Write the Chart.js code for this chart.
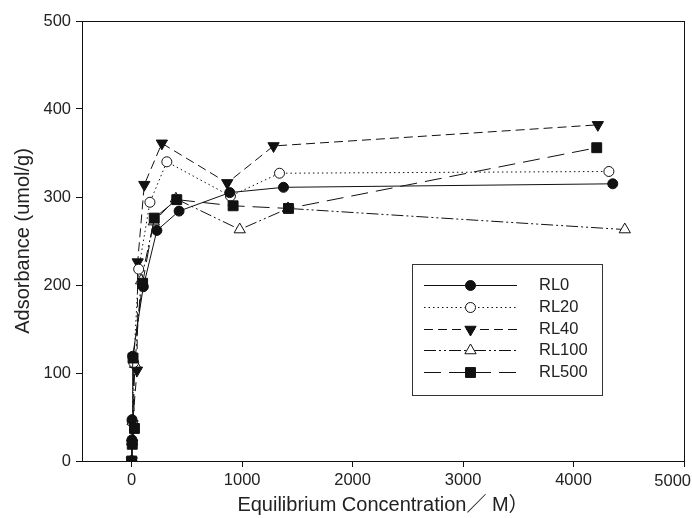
<!DOCTYPE html>
<html>
<head>
<meta charset="utf-8">
<script src="https://cdn.jsdelivr.net/npm/chart.js@4.4.0/dist/chart.umd.min.js"></script>
<style>
    html, body { margin: 0; padding: 0; background: #fff; }
    #wrap { width: 692px; height: 518px; position: relative; }
</style>
</head>
<body>
<div id="wrap"><canvas id="adsorption-chart"></canvas></div>
<script>
// equilibrium concentration (x) and adsorbed amount (y) for each sample
var rl0X = [0, 2, 3, 9, 105, 228, 429, 888, 1374, 4355];
var rl0Y = [0, 24, 47, 119, 198, 262, 284, 305, 311, 315];

var rl20X = [0, 3, 6, 18, 63, 165, 318, 894, 1338, 4320];
var rl20Y = [0, 20, 44, 112, 218, 294, 340, 301, 327, 329];

var rl40X = [0, 4, 8, 48, 54, 114, 273, 865, 1284, 4220];
var rl40Y = [0, 20, 42, 103, 226, 314, 361, 316, 358, 382];

var rl100X = [0, 4, 8, 30, 85, 200, 400, 978, 1415, 4464];
var rl100Y = [0, 22, 45, 110, 205, 272, 298, 263, 287, 263];

var rl500X = [0, 5, 25, 12, 99, 204, 408, 918, 1419, 4210];
var rl500Y = [0, 19, 37, 117, 202, 276, 297, 290, 287, 356];

var seriesNames = ["RL0", "RL20", "RL40", "RL100", "RL500"];
var xTickValues = [0, 1000, 2000, 3000, 4000, 5000];
var yTickValues = [0, 100, 200, 300, 400, 500];

var fontFamily = "'Liberation Sans', Arial, 'Noto Sans CJK SC', sans-serif";
var inkColor = "#222";
var tickFontSize = 16.5;

function toPoints(xs, ys) {
    return xs.map(function (x, i) { return { x: x, y: ys[i] }; });
}

function series(name, xs, ys, opts) {
    return Object.assign({
        label: name,
        data: toPoints(xs, ys),
        borderColor: "#111",
        borderWidth: 1,
        pointBorderColor: "#111",
        pointBorderWidth: 1,
        backgroundColor: "#111",
        pointBackgroundColor: "#111",
        showLine: true,
        tension: 0,
        order: 1
    }, opts);
}

// RL500 gets order 0 so its squares sit above the other markers
var datasets = [
    series(seriesNames[0], rl0X, rl0Y, { pointStyle: "circle", pointRadius: 5, borderDash: [] }),
    series(seriesNames[1], rl20X, rl20Y, { pointStyle: "circle", pointRadius: 5, pointBackgroundColor: "#fff", borderDash: [1.5, 3] }),
    series(seriesNames[2], rl40X, rl40Y, { pointStyle: "triangle", pointRadius: 6.5, pointRotation: 180, borderDash: [9, 5] }),
    series(seriesNames[3], rl100X, rl100Y, { pointStyle: "triangle", pointRadius: 6.5, pointBackgroundColor: "#fff", borderDash: [12, 3, 2, 3, 2, 3], order: 2 }),
    series(seriesNames[4], rl500X, rl500Y, { pointStyle: "rect", pointRadius: 7, borderDash: [17, 8], order: 0 })
];

// full frame around the plotting area, plus the last x label kept inside the canvas
var framePlugin = {
    id: "frame",
    afterDraw: function (chart) {
        var a = chart.chartArea, ctx = chart.ctx;
        ctx.save();
        ctx.strokeStyle = "#111";
        ctx.lineWidth = 1;
        ctx.strokeRect(Math.round(a.left) + 0.5, Math.round(a.top) + 0.5,
            Math.round(a.right - a.left), Math.round(a.bottom - a.top));

        var xs = chart.scales.x;
        var last = xTickValues[xTickValues.length - 1];
        var text = String(last);
        ctx.font = tickFontSize + "px " + fontFamily;
        var w = ctx.measureText(text).width;
        var px = Math.min(xs.getPixelForValue(last) + w / 2, chart.width - 1) - w;
        ctx.fillStyle = inkColor;
        ctx.textAlign = "left";
        ctx.textBaseline = "middle";
        ctx.fillText(text, px, a.bottom + 20);
        ctx.restore();
    }
};

// boxed legend: a line sample with the marker in the middle
var legendBox = { left: 412, top: 264, right: 602, bottom: 395, firstRow: 285, rowStep: 21.75,
    lineFrom: 424, lineTo: 517, textX: 539 };

var legendPlugin = {
    id: "sampleLegend",
    afterDraw: function (chart) {
        var ctx = chart.ctx, b = legendBox;
        ctx.save();
        ctx.fillStyle = "#fff";
        ctx.fillRect(b.left, b.top, b.right - b.left, b.bottom - b.top);
        ctx.strokeStyle = "#333";
        ctx.lineWidth = 1;
        ctx.strokeRect(b.left + 0.5, b.top + 0.5, b.right - b.left, b.bottom - b.top);
        chart.data.datasets.forEach(function (ds, i) {
            var y = Math.round(b.firstRow + i * b.rowStep) + 0.5;
            ctx.strokeStyle = ds.borderColor;
            ctx.lineWidth = ds.borderWidth;
            ctx.setLineDash(ds.borderDash || []);
            ctx.beginPath();
            ctx.moveTo(b.lineFrom, y);
            ctx.lineTo(b.lineTo, y);
            ctx.stroke();
            ctx.setLineDash([]);
            ctx.fillStyle = ds.pointBackgroundColor;
            ctx.strokeStyle = ds.pointBorderColor;
            Chart.helpers.drawPoint(ctx, {
                pointStyle: ds.pointStyle,
                radius: ds.pointRadius,
                rotation: ds.pointRotation || 0,
                borderWidth: 1
            }, (b.lineFrom + b.lineTo) / 2, y);
            ctx.fillStyle = inkColor;
            ctx.font = tickFontSize + "px " + fontFamily;
            ctx.textBaseline = "middle";
            ctx.textAlign = "left";
            ctx.fillText(ds.label, b.textX, y);
        });
        ctx.restore();
    }
};

function fixedTicks(values) {
    return function (scale) {
        scale.ticks = values.map(function (v) { return { value: v }; });
    };
}

var chart = new Chart(document.getElementById("adsorption-chart"), {
    type: "scatter",
    data: { datasets: datasets },
    plugins: [framePlugin, legendPlugin],
    options: {
        responsive: true,
        maintainAspectRatio: false,
        animation: false,
        layout: { padding: { top: 21, right: 6, left: 0, bottom: 0 } },
        plugins: { legend: { display: false }, tooltip: { enabled: false } },
        scales: {
            x: {
                type: "linear",
                min: -450,
                max: 5000,
                afterBuildTicks: fixedTicks(xTickValues),
                afterFit: function (scale) {
                    scale.height = 57;
                    scale.paddingLeft = 0;
                    scale.paddingRight = 0;
                },
                grid: { drawOnChartArea: false, drawTicks: true, tickLength: 6, color: "#111" },
                border: { display: true, color: "#111", width: 1 },
                ticks: {
                    color: inkColor,
                    padding: 4,
                    maxRotation: 0,
                    autoSkip: false,
                    font: { size: tickFontSize, family: fontFamily },
                    // the last label is drawn by the frame plugin
                    callback: function (v) { return v === xTickValues[xTickValues.length - 1] ? "" : String(v); }
                },
                title: {
                    display: true,
                    text: "Equilibrium Concentration／ M）",
                    color: inkColor,
                    padding: { top: 0, bottom: 1 },
                    font: { size: 20, family: fontFamily }
                }
            },
            y: {
                type: "linear",
                min: 0,
                max: 500,
                afterBuildTicks: fixedTicks(yTickValues),
                afterFit: function (scale) {
                    scale.width = 82;
                    scale.paddingTop = 0;
                    scale.paddingBottom = 0;
                },
                grid: { drawOnChartArea: false, drawTicks: true, tickLength: 6, color: "#111" },
                border: { display: true, color: "#111", width: 1 },
                ticks: {
                    color: inkColor,
                    padding: 5,
                    font: { size: tickFontSize, family: fontFamily },
                    callback: function (v) { return String(v); }
                },
                title: {
                    display: true,
                    text: "Adsorbance (umol/g)",
                    color: inkColor,
                    padding: { top: 11, bottom: 0 },
                    font: { size: 20, family: fontFamily }
                }
            }
        }
    }
});
</script>
</body>
</html>
